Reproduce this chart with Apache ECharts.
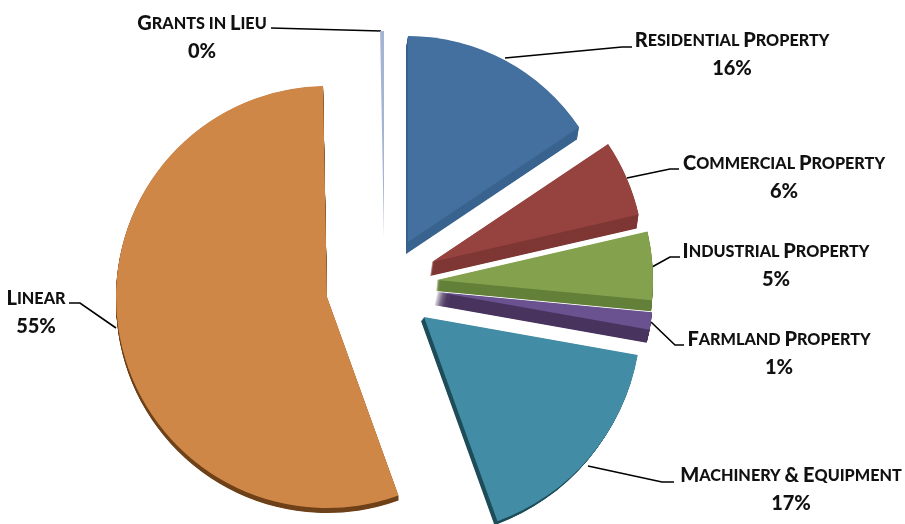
<!DOCTYPE html>
<html>
<head>
<meta charset="utf-8">
<style>html,body{margin:0;padding:0;background:#fff}#c{width:905px;height:524px}</style>
<script src="https://cdn.jsdelivr.net/npm/echarts@6/dist/echarts.min.js"></script>
</head>
<body>
<div id="c"></div>
<script>
// Data (clockwise from 12 o'clock)
var categories = ['Residential Property','Commercial Property','Industrial Property','Farmland Property','Machinery & Equipment','Linear','Grants in Lieu'];
var values = [15.6, 5.8, 5.1, 1.3, 16.7, 55.2, 0.3];
var percentLabels = ['16%','6%','5%','1%','17%','55%','0%'];

// Styling and layout, by category index
var faceColors = ['#44709f','#964340','#84a14e','#6a5290','#438ca6','#cf8747','#a6b4d4'];
var sideColors = ['#3a648f','#7f3835','#64803a','#49355f','#1f4d5a','#6f421a','#8d9cc0'];
var centers = [[408,242],[432,262],[437,280],[437,292],[424,317],[327,297],[384,238]];
var radii = [206,212,216,216,217,211,207];
var depths = [[-2,12],[-2,14],[-1,11],[-3,13],[-3,4],[0,5],[0,0]];
var labelCenters = [[732,55],[784,178],[776,266],[779,354],[791,490],[36,313],[202,38]];
var leaderLines = [
  [[632,47],[622,47],[505,58]],
  [[679,169],[670,169],[627,178]],
  [[680,257],[670,257],[652,267]],
  [[684,345],[675,345],[651,322]],
  [[674,482],[662,482],[588,466]],
  [[69,303],[80,303],[116,328]],
  [[271,28],[381,31]]
];
var drawOrder = [6,5,4,3,2,1,0];

function smallCaps(s){
  var out = '', run = '';
  for (var i = 0; i < s.length; i++){
    var ch = s[i];
    if (ch >= 'A' && ch <= 'Z' || ch === '&'){
      if (run){ out += '{s|' + run + '}'; run = ''; }
      out += '{b|' + ch + '}';
    } else {
      run += ch.toUpperCase();
    }
  }
  if (run) out += '{s|' + run + '}';
  return out;
}

function pieSeries(owner, dx, dy, color, withLabel){
  var s = {
    type: 'pie',
    silent: true,
    animation: false,
    startAngle: 90,
    clockwise: true,
    avoidLabelOverlap: false,
    center: [centers[owner][0] + dx, centers[owner][1] + dy],
    radius: [0, radii[owner]],
    label: {show: false},
    labelLine: {show: false},
    data: categories.map(function(name, i){
      var item = {name: name, value: values[i], itemStyle: {color: i === owner ? color : 'transparent'}};
      if (i === owner && withLabel){
        item.label = {
          show: true,
          position: 'outside',
          formatter: smallCaps(name) + '\n{p|' + percentLabels[i] + '}',
          color: '#111',
          rich: {
            b: {fontFamily: 'Lato', fontWeight: 900, fontSize: 20, lineHeight: 28, color: '#111'},
            s: {fontFamily: 'Lato', fontWeight: 900, fontSize: 16.2, lineHeight: 28, color: '#111'},
            p: {fontFamily: 'Lato', fontWeight: 900, fontSize: 20, lineHeight: 28, color: '#111', align: 'center'}
          }
        };
        item.labelLine = {show: true, lineStyle: {color: '#000', width: 1.6}};
      }
      return item;
    })
  };
  if (withLabel){
    s.labelLayout = {
      x: labelCenters[owner][0],
      y: labelCenters[owner][1],
      align: 'center',
      verticalAlign: 'middle',
      labelLinePoints: leaderLines[owner]
    };
  }
  return s;
}

var series = [];
drawOrder.forEach(function(owner){
  var d = depths[owner];
  var steps = Math.max(Math.abs(d[0]), Math.abs(d[1])) * 2;
  for (var k = steps; k >= 1; k--){
    series.push(pieSeries(owner, d[0]*k/steps, d[1]*k/steps, sideColors[owner], false));
  }
  series.push(pieSeries(owner, 0, 0, faceColors[owner], true));
});

var chart = echarts.init(document.getElementById('c'), null, {renderer: 'canvas'});
chart.setOption({backgroundColor: '#ffffff', animation: false, series: series});
</script>
</body>
</html>
